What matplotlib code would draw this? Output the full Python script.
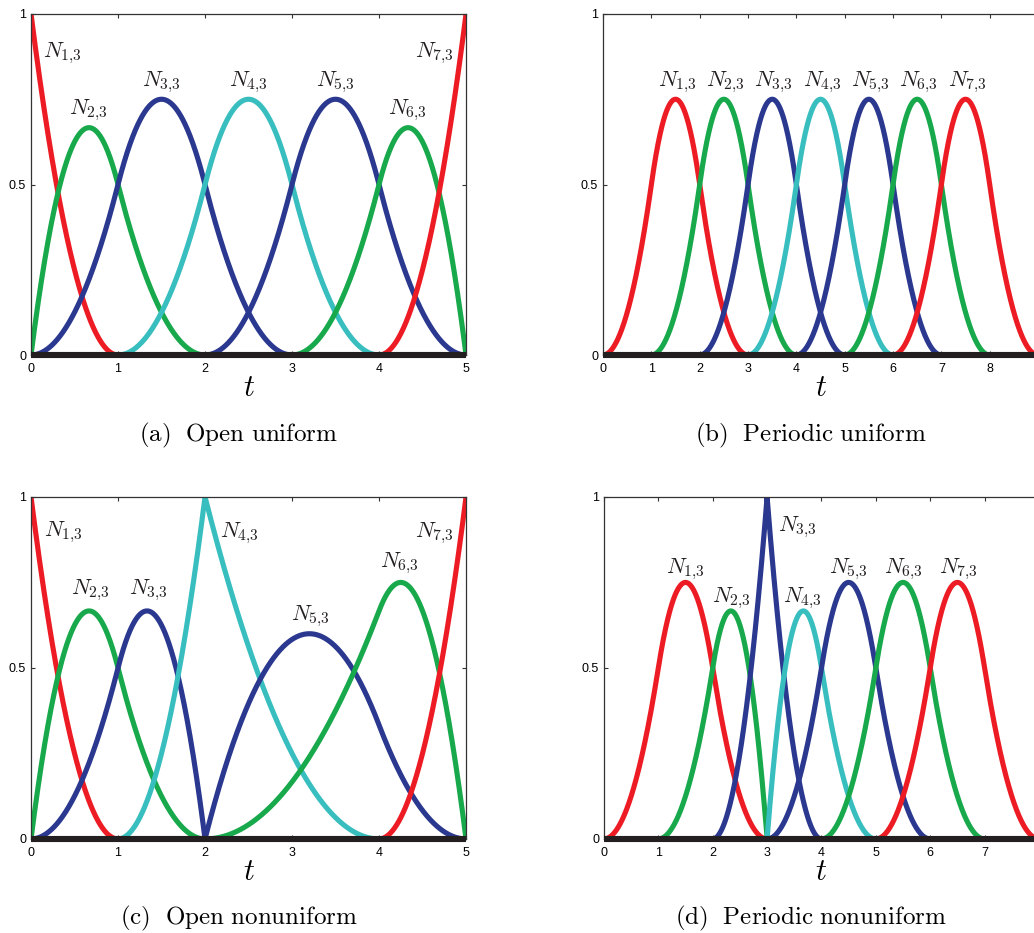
import numpy as np
import matplotlib
matplotlib.use('Agg')
import matplotlib.pyplot as plt

plt.rcParams['mathtext.fontset'] = 'cm'
plt.rcParams['font.family'] = ['Liberation Sans', 'DejaVu Sans']

# B-spline order (k = 3, quadratic) and the knot vectors of the four panels
ORDER = 3
knots_a = [0, 0, 0, 1, 2, 3, 4, 5, 5, 5]
knots_b = [0, 1, 2, 3, 4, 5, 6, 7, 8, 9]
knots_c = [0, 0, 0, 1, 2, 2, 4, 5, 5, 5]
knots_d = [0, 1, 2, 3, 3, 4, 5, 6, 7, 8]
x_max = [5, 9, 5, 8]

captions = [r'(a)\ \ Open\ uniform', r'(b)\ \ Periodic\ uniform',
            r'(c)\ \ Open\ nonuniform', r'(d)\ \ Periodic\ nonuniform']
y_ticks = [0, 0.5, 1]
y_tick_labels = ['0', '0.5', '1']

# where the N_{i,3} labels sit (data coords)
labels_a = [(0.36, 0.886), (0.66, 0.718), (1.5, 0.80), (2.5, 0.80),
            (3.5, 0.80), (4.33, 0.718), (4.64, 0.886)]
labels_b = [(1.53, 0.80), (2.53, 0.80), (3.53, 0.80), (4.53, 0.80),
            (5.53, 0.80), (6.53, 0.80), (7.53, 0.80)]
labels_c = [(0.37, 0.898), (0.68, 0.728), (1.35, 0.728), (2.40, 0.895),
            (3.21, 0.65), (4.24, 0.807), (4.64, 0.895)]
labels_d = [(1.49, 0.787), (2.35, 0.705), (3.55, 0.912), (3.65, 0.705),
            (4.49, 0.787), (5.51, 0.787), (6.52, 0.787)]

RED, GREEN, BLUE, CYAN = '#ed1c24', '#17a94b', '#2b388f', '#38bebe'
curve_colors = [RED, GREEN, BLUE, CYAN, BLUE, GREEN, RED]


def basis(knots, i, k, t):
    """Cox-de Boor recursion for N_{i,k}(t)"""
    if k == 1:
        lo, hi = knots[i], knots[i + 1]
        out = ((t >= lo) & (t < hi)).astype(float)
        # close the last span so open curves reach the end knot
        if lo < hi and hi == knots[-1]:
            out[t == hi] = 1.0
        return out
    d1 = knots[i + k - 1] - knots[i]
    d2 = knots[i + k] - knots[i + 1]
    a = (t - knots[i]) / d1 * basis(knots, i, k - 1, t) if d1 > 0 else 0
    b = (knots[i + k] - t) / d2 * basis(knots, i + 1, k - 1, t) if d2 > 0 else 0
    return a + b


fig = plt.figure(figsize=(10.34, 9.33), dpi=100)

rects = [(0.0300, 0.6195, 0.4207, 0.3655), (0.5832, 0.6195, 0.4207, 0.3655),
         (0.0300, 0.1008, 0.4207, 0.3666), (0.5841, 0.1008, 0.4207, 0.3666)]
caption_pos = [(0.231, 0.5338), (0.784, 0.5338), (0.231, 0.0161), (0.784, 0.0161)]

panels = zip(rects, [knots_a, knots_b, knots_c, knots_d], x_max,
             [labels_a, labels_b, labels_c, labels_d], captions, caption_pos)

for rect, knots, xm, labels, cap, cpos in panels:
    ax = fig.add_axes(rect)
    t = np.union1d(np.linspace(0, xm, 3001), knots)
    n = len(knots) - ORDER
    for i in range(n):
        ax.plot(t, basis(knots, i, ORDER, t), color=curve_colors[i], lw=3.7,
                solid_capstyle='butt', zorder=2)
        lx, ly = labels[i]
        ax.text(lx, ly, r'$N_{%d{,}%d}$' % (i + 1, ORDER), fontsize=16,
                ha='center', va='center', color='#231f20')
    ax.plot([0, xm], [0, 0], color='#231f20', lw=4.4, clip_on=False,
            solid_capstyle='butt', zorder=3)
    ax.set_xlim(0, xm)
    ax.set_ylim(0, 1)
    ticks = list(range(xm + 1))
    ax.set_xticks(ticks)
    # the last tick of the wide panels falls past the page edge
    ax.set_xticklabels([str(v) if v <= 5 or v < xm else '' for v in ticks])
    ax.set_yticks(y_ticks)
    ax.set_yticklabels(y_tick_labels)
    ax.tick_params(direction='in', top=True, right=True, length=3, width=0.8,
                   labelsize=9, color='#333333')
    ax.tick_params(axis='x', pad=5.5)
    ax.tick_params(axis='y', pad=3.5)
    for s in ax.spines.values():
        s.set_color('#333333')
        s.set_linewidth(0.9)
    ax.annotate(r'$t$', xy=(0.5, 0), xycoords='axes fraction',
                xytext=(0, -23.5), textcoords='offset points',
                ha='center', va='center', fontsize=22)
    fig.text(cpos[0], cpos[1], r'$\mathrm{%s}$' % cap, fontsize=18,
             ha='center', va='center')

fig.savefig('out.png', dpi=100)
